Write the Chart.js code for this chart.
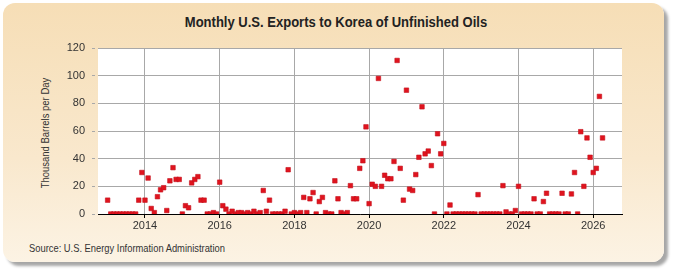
<!DOCTYPE html>
<html>
<head>
<meta charset="utf-8">
<script src="https://cdn.jsdelivr.net/npm/chart.js@4.4.1/dist/chart.umd.min.js"></script>
<style>
  html, body { margin: 0; padding: 0; background: #ffffff; }
  #wrap { position: relative; width: 675px; height: 275px; overflow: hidden; }
  #panel {
    position: absolute; left: 3px; top: 3px; width: 661px; height: 259px;
    border-radius: 12px;
    background: linear-gradient(to bottom, #f6deb6 0%, #f9e8cd 60%, #fcf3e4 100%);
    box-shadow: 4px 4px 3px rgba(0,0,0,0.35);
  }
  .txt { font-family: "Liberation Sans", Arial, sans-serif; color: #333; position: absolute; white-space: nowrap; }
  #title {
    left: 0; width: 672px; top: 13px; text-align: center;
    font-weight: bold; font-size: 14px; color: #222; line-height: 18px;
    transform: scaleX(0.93); transform-origin: 336px 0;
  }
  #source {
    left: 29px; top: 241px; font-size: 11px; line-height: 14px;
    transform: scaleX(0.85); transform-origin: 0 0;
  }
  #ytitle {
    left: -25px; top: 126px; width: 140px; text-align: center;
    font-size: 11px; line-height: 14px;
    transform: rotate(-90deg) scaleX(0.86); transform-origin: 70px 7px;
  }
  #c { position: absolute; left: 0; top: 0; }
</style>
</head>
<body>
<div id="wrap">
  <div id="panel"></div>
  <div id="title" class="txt">Monthly U.S. Exports to Korea of Unfinished Oils</div>
  <div id="source" class="txt">Source: U.S. Energy Information Administration</div>
  <div id="ytitle" class="txt">Thousand Barrels per Day</div>
  <canvas id="c" width="675" height="275"></canvas>
</div>
<script>
// Monthly values (thousand barrels per day), January to December of each year
const startYear = 2013;
const v2013 = [10, 0, 0, 0, 0, 0, 0, 0, 0, 0, 10, 30];
const v2014 = [10, 26, 4, 1, 12.5, 17.5, 19, 2.5, 24, 33.5, 25, 25];
const v2015 = [0, 6, 4.5, 22.5, 25, 27, 10, 10, 0, 0, 1, 0];
const v2016 = [23, 6, 3.5, 0, 2, 0, 1, 1, 0, 1, 0, 2];
const v2017 = [0, 1, 17, 2, 10, 0, 0, 0, 0, 2, 32, 0];
const v2018 = [1, 0, 1, 12, 1, 11, 15.5, 0, 9, 12, 1, 0];
const v2019 = [0, 24, 11, 1, 0, 1, 20.5, 11, 11, 33, 38.5, 63];
const v2020 = [7.5, 21.5, 20, 98, 20, 28, 25.5, 25.5, 38, 111, 33, 10];
const v2021 = [89.5, 18, 17, 28.5, 41, 77.5, 43.5, 45.5, 35, 0, 58, 43.5];
const v2022 = [51, 0, 6.5, 0, 0, 0, 0, 0, 0, 0, 0, 14];
const v2023 = [0, 0, 0, 0, 0, 0, 0, 20.5, 1.5, 0, 0, 2.5];
const v2024 = [20, 0, 0, 0, 0, 11, 0, 0, 9, 15, 0, 0];
const v2025 = [0, 0, 15, 0, 0, 14.5, 30, 0, 59.5, 20, 55, 41];
const v2026 = [30, 33, 85, 55];
const yearlyValues = [v2013, v2014, v2015, v2016, v2017, v2018, v2019, v2020, v2021, v2022, v2023, v2024, v2025, v2026];

const xTickYears = [2014, 2016, 2018, 2020, 2022, 2024, 2026];
const yTicks = [0, 20, 40, 60, 80, 100, 120];

const points = [];
yearlyValues.forEach((arr, yi) => {
  arr.forEach((v, mi) => points.push({ x: startYear + yi + mi / 12, y: v }));
});

const FONT = "'Liberation Sans', Arial, sans-serif";

const plotBg = {
  id: 'plotBg',
  beforeDraw(chart) {
    const { ctx, chartArea: a } = chart;
    ctx.save();
    ctx.fillStyle = '#ffffff';
    ctx.fillRect(a.left, a.top, a.right - a.left, a.bottom - a.top);
    ctx.restore();
  }
};

new Chart(document.getElementById('c'), {
  type: 'scatter',
  data: {
    datasets: [{
      data: points,
      pointStyle: 'rect',
      pointRadius: 3.2,
      pointHoverRadius: 3.2,
      backgroundColor: '#e0141e',
      borderColor: '#c4101c',
      borderWidth: 0.6
    }]
  },
  options: {
    responsive: false,
    animation: false,
    events: [],
    layout: { padding: { left: 38, right: 53, top: 48, bottom: 41 } },
    plugins: { legend: { display: false }, tooltip: { enabled: false } },
    scales: {
      x: {
        type: 'linear',
        min: 2012.742,
        max: 2026.771,
        afterFit(s) { s.height = 20; },
        afterBuildTicks(s) { s.ticks = xTickYears.map(v => ({ value: v })); },
        grid: {
          color: '#a8a8a8',
          borderDash: [3, 3],
          lineWidth: 1,
          drawTicks: true,
          tickLength: 4,
          tickColor: '#000000',
          tickBorderDash: []
        },
        border: { display: true, color: '#000000', width: 1 },
        ticks: {
          padding: 1,
          color: '#333333',
          font: { family: FONT, size: 11 },
          maxRotation: 0,
          callback: v => String(v)
        }
      },
      y: {
        min: 0,
        max: 120,
        afterFit(s) { s.width = 60; },
        afterBuildTicks(s) { s.ticks = yTicks.map(v => ({ value: v })); },
        grid: {
          color: '#a8a8a8',
          borderDash: [3, 3],
          lineWidth: 1,
          drawTicks: true,
          tickLength: 6,
          tickColor: '#a8a8a8',
          tickBorderDash: [3, 3]
        },
        border: { display: false },
        ticks: {
          padding: 7,
          color: '#333333',
          font: { family: FONT, size: 11 }
        }
      }
    }
  },
  plugins: [plotBg]
});
</script>
</body>
</html>
